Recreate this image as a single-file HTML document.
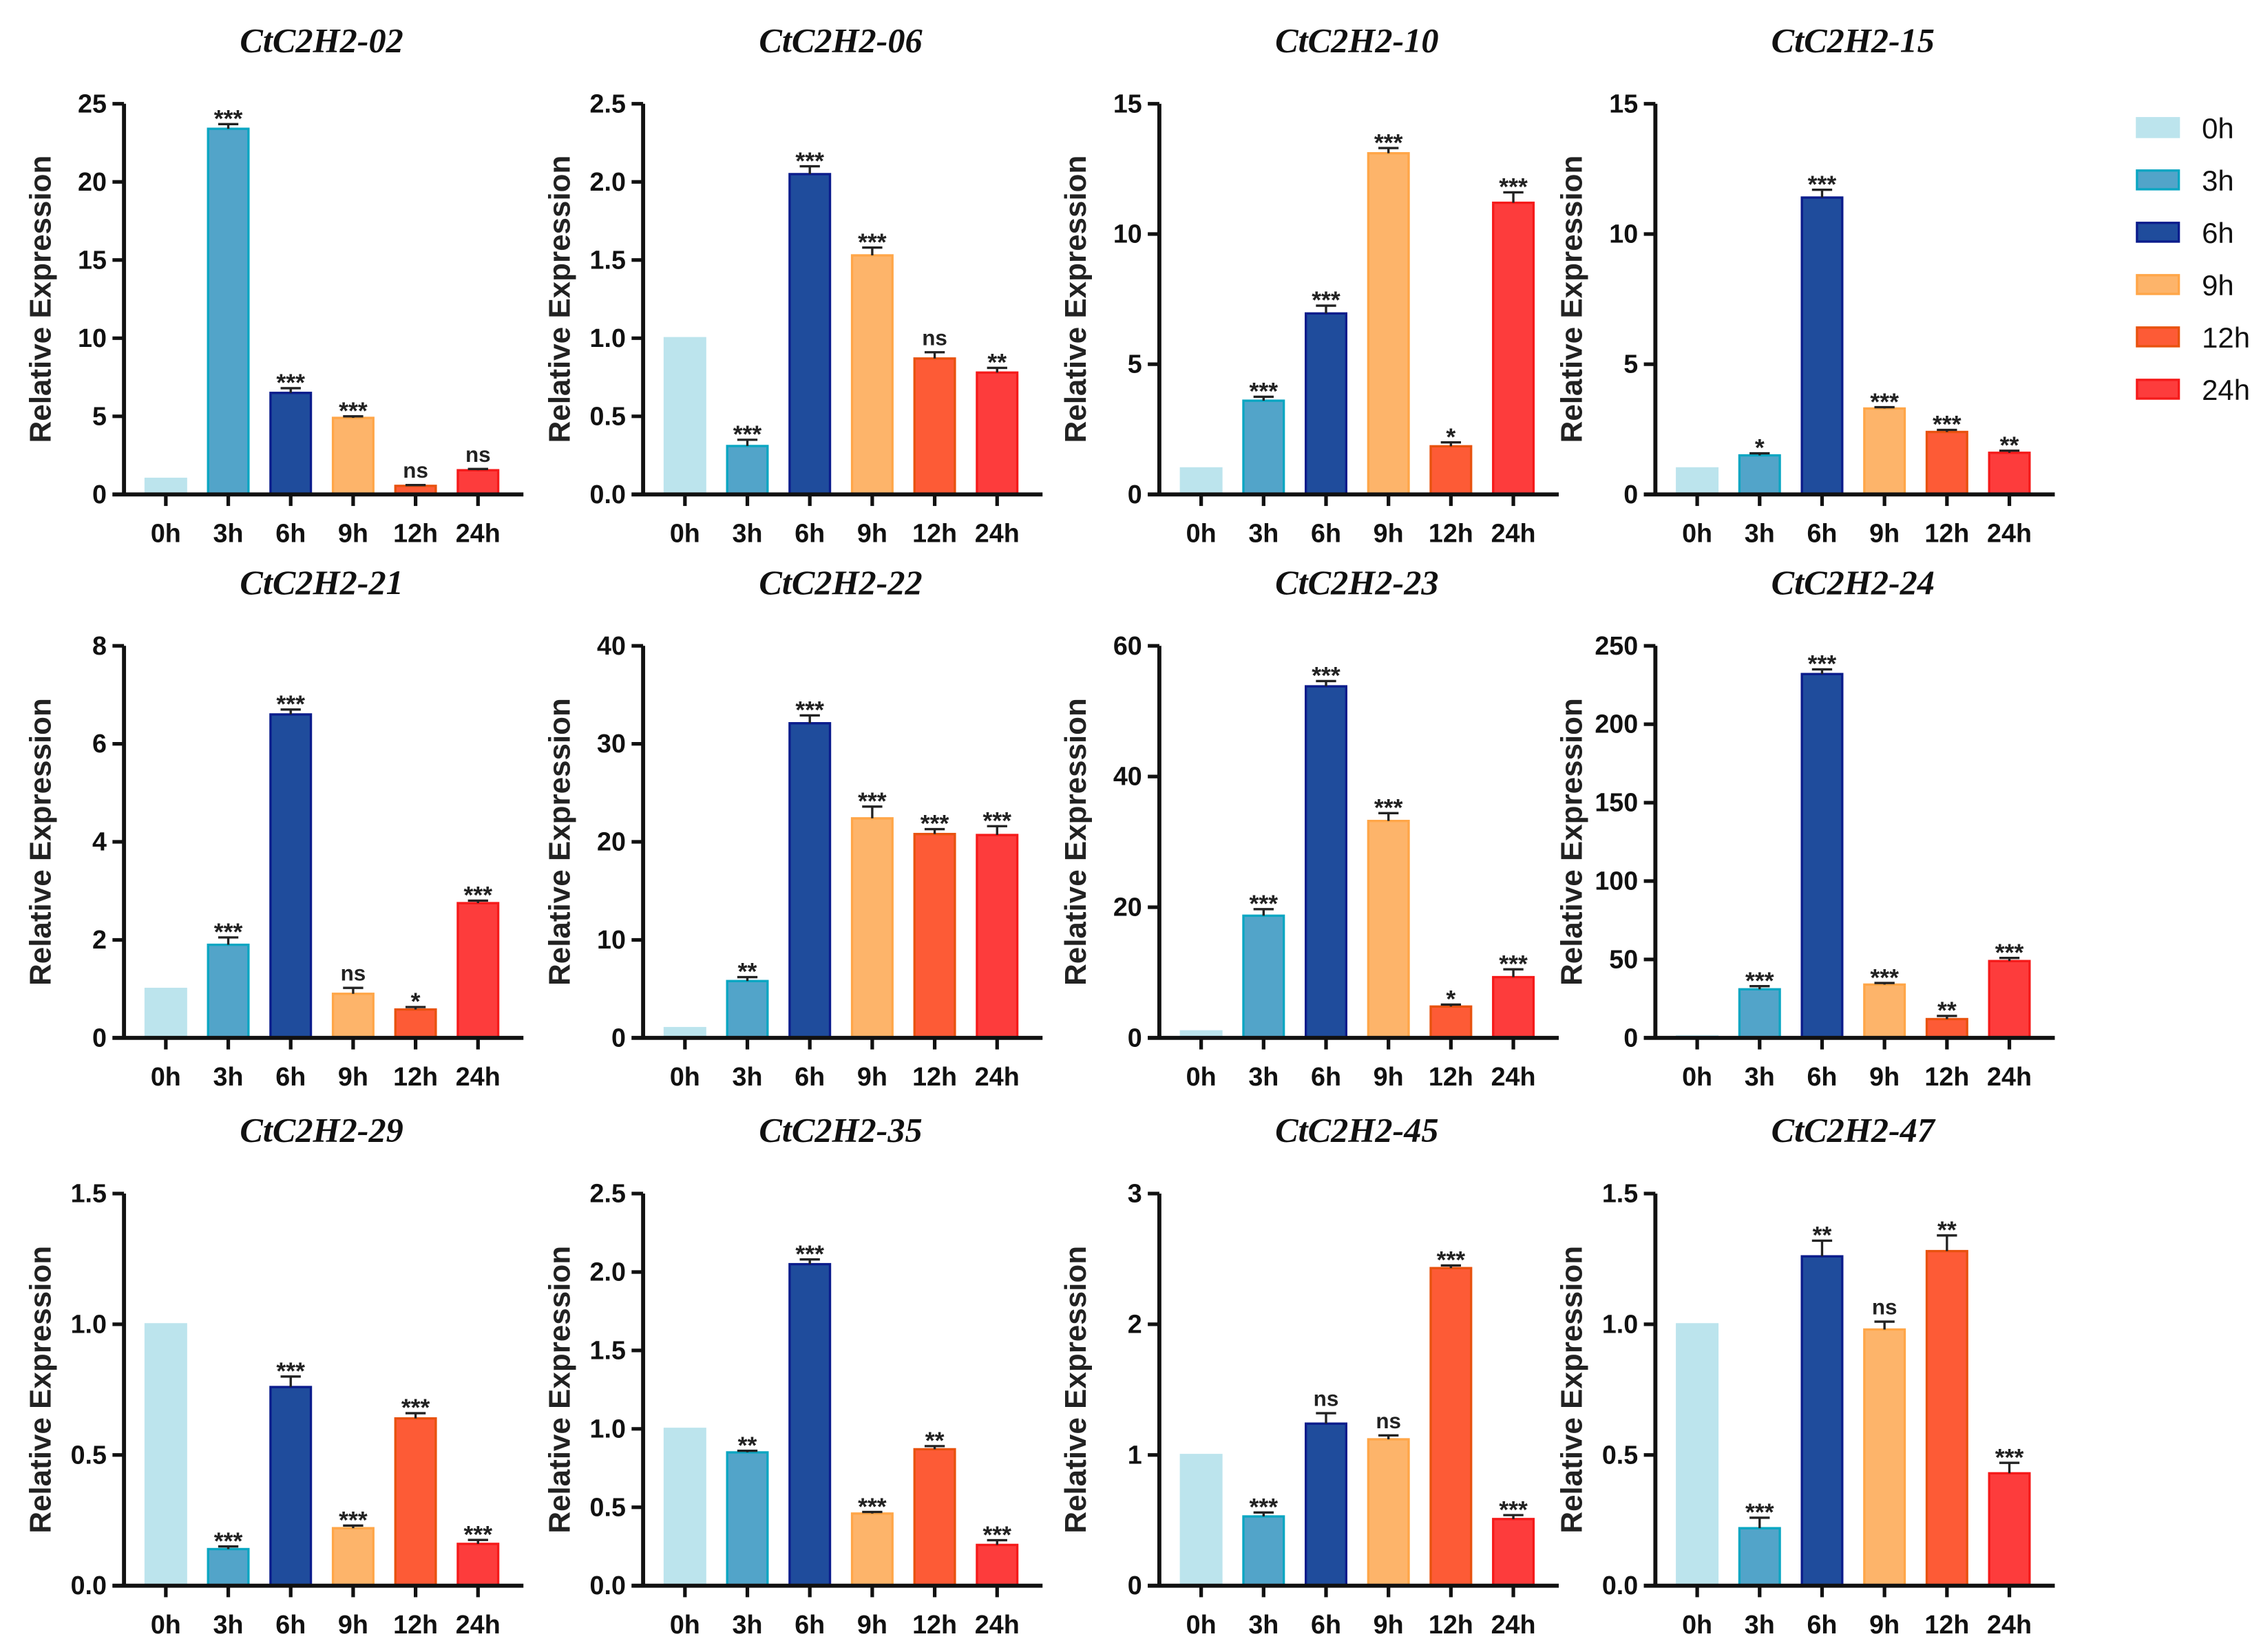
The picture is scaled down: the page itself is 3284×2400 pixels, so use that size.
<!DOCTYPE html>
<html><head><meta charset="utf-8"><style>
html,body{margin:0;padding:0;background:#fff;}
svg{display:block;}
</style></head><body>
<svg id="fig" xmlns="http://www.w3.org/2000/svg" width="3284" height="2400" viewBox="0 0 1568 1146" preserveAspectRatio="none" font-family="Liberation Sans, Arial, sans-serif"></svg>
<script>
const categories = ["0h","3h","6h","9h","12h","24h"];
const titles = ["CtC2H2-02","CtC2H2-06","CtC2H2-10","CtC2H2-15","CtC2H2-21","CtC2H2-22","CtC2H2-23","CtC2H2-24","CtC2H2-29","CtC2H2-35","CtC2H2-45","CtC2H2-47"];
const values02 = [1,23.4,6.5,4.9,0.55,1.55];
const values06 = [1,0.31,2.05,1.53,0.87,0.78];
const values10 = [1,3.6,6.95,13.1,1.85,11.2];
const values15 = [1,1.5,11.4,3.3,2.4,1.6];
const values21 = [1,1.9,6.6,0.9,0.58,2.75];
const values22 = [1,5.8,32.1,22.4,20.8,20.7];
const values23 = [1,18.7,53.8,33.2,4.8,9.3];
const values24 = [1,31,232,34,12,49];
const values29 = [1,0.14,0.76,0.22,0.64,0.16];
const values35 = [1,0.85,2.05,0.46,0.87,0.26];
const values45 = [1,0.53,1.24,1.12,2.43,0.51];
const values47 = [1,0.22,1.26,0.98,1.28,0.43];
const errors02 = [0,0.3,0.3,0.1,0.05,0.08];
const errors06 = [0,0.04,0.05,0.05,0.04,0.03];
const errors10 = [0,0.15,0.3,0.2,0.15,0.4];
const errors15 = [0,0.08,0.3,0.05,0.08,0.08];
const errors21 = [0,0.15,0.1,0.12,0.05,0.05];
const errors22 = [0,0.4,0.8,1.2,0.5,0.9];
const errors23 = [0,1,0.8,1.2,0.3,1.2];
const errors24 = [0,2,3,1,2,2];
const errors29 = [0,0.01,0.04,0.01,0.02,0.015];
const errors35 = [0,0.01,0.03,0.01,0.02,0.03];
const errors45 = [0,0.03,0.08,0.03,0.02,0.03];
const errors47 = [0,0.04,0.06,0.03,0.06,0.04];
const sig02 = ["","***","***","***","ns","ns"];
const sig06 = ["","***","***","***","ns","**"];
const sig10 = ["","***","***","***","*","***"];
const sig15 = ["","*","***","***","***","**"];
const sig21 = ["","***","***","ns","*","***"];
const sig22 = ["","**","***","***","***","***"];
const sig23 = ["","***","***","***","*","***"];
const sig24 = ["","***","***","***","**","***"];
const sig29 = ["","***","***","***","***","***"];
const sig35 = ["","**","***","***","**","***"];
const sig45 = ["","***","ns","ns","***","***"];
const sig47 = ["","***","**","ns","**","***"];
const yMax = [25,2.5,15,15,8,40,60,250,1.5,2.5,3,1.5];
const yStep = [5,0.5,5,5,2,10,20,50,0.5,0.5,1,0.5];
const yDecimals = [0,1,0,0,0,0,0,0,1,1,0,1];

const allValues=[values02,values06,values10,values15,values21,values22,values23,values24,values29,values35,values45,values47];
const allErrors=[errors02,errors06,errors10,errors15,errors21,errors22,errors23,errors24,errors29,errors35,errors45,errors47];
const allSig=[sig02,sig06,sig10,sig15,sig21,sig22,sig23,sig24,sig29,sig35,sig45,sig47];
const fills=["#bce4ed","#52a4c9","#1f4c9c","#fdb46a","#fd5b36","#fd3c3c"];
const strokes=["#bce4ed","#0aa6c2","#0b1c8c","#ffa648","#e8520f","#f51a1a"];

const NS="http://www.w3.org/2000/svg";
const svg=document.getElementById('fig');
function mk(tag,attrs,parent,txt){const e=document.createElementNS(NS,tag);for(const k in attrs)e.setAttribute(k,attrs[k]);if(txt!==undefined)e.textContent=txt;(parent||svg).appendChild(e);return e;}

const axisXs=[86,446,804,1148];
const rowTop=[72,448,828];
const rowZero=[343,720,1100];

for(let p=0;p<12;p++){
  const col=p%4,row=Math.floor(p/4);
  const ax=axisXs[col],top=rowTop[row],zero=rowZero[row];
  const g=mk('g',{});
  
  
  const yScale=v=>zero-(v/yMax[p])*(zero-top);
  const xScale=i=>ax+29+i*43.3;
  const t=mk('text',{x:ax+137,y:row==0?36:(row==1?412:792),'text-anchor':'middle',style:'font-family:"Liberation Serif",serif;font-style:italic;font-weight:bold;font-size:24px',fill:'#111'},g,titles[p]);
  
  
  const yl=mk('text',{x:0,y:0,transform:`translate(${ax-51},${(top+zero)/2}) rotate(-90)`,'text-anchor':'middle','font-size':21,'font-weight':'bold',fill:'#222'},g,'Relative Expression');
  
  
  const vals=allValues[p],errs=allErrors[p],sg=allSig[p];
  for(let i=0;i<6;i++){
    const cx=xScale(i),yv=yScale(vals[i]);
    const b=mk('rect',{x:cx-14,y:yv,width:28,height:zero-yv,fill:fills[i],stroke:strokes[i],'stroke-width':1.6},g);
    
    
    if(errs[i]>0){
      const ye=yScale(vals[i]+errs[i]);
      mk('line',{x1:cx,x2:cx,y1:yv,y2:ye,stroke:'#222','stroke-width':1.6},g);
      mk('line',{x1:cx-7,x2:cx+7,y1:ye,y2:ye,stroke:'#222','stroke-width':1.6},g);
    }
    if(sg[i]){
      const ye=yScale(vals[i]+errs[i]);
      const st=mk('text',{x:cx,y:sg[i]=='ns'?ye-5:ye+2,'text-anchor':'middle','font-size':sg[i]=='ns'?15:17,'font-weight':'bold',fill:'#222'},g,sg[i]);
      
      
    }
    mk('line',{x1:cx,x2:cx,y1:zero,y2:zero+8,stroke:'#111','stroke-width':2.5},g);
    const xl=mk('text',{x:cx,y:zero+33,'text-anchor':'middle','font-size':18,'font-weight':'bold',fill:'#111'},g,categories[i]);
    
    
  }
  const ya=mk('line',{x1:ax,x2:ax,y1:top,y2:zero+1,stroke:'#111','stroke-width':2.8},g);
  
  
  const xa=mk('line',{x1:ax-8,x2:ax+277,y1:zero,y2:zero,stroke:'#111','stroke-width':2.8},g);
  
  
  const n=Math.round(yMax[p]/yStep[p]);
  for(let k=0;k<=n;k++){
    const v=k*yStep[p],yy=yScale(v);
    mk('line',{x1:ax-8,x2:ax,y1:yy,y2:yy,stroke:'#111','stroke-width':2.5},g);
    const tl=mk('text',{x:ax-12,y:yy+6,'text-anchor':'end','font-size':18,'font-weight':'bold',fill:'#111'},g,v.toFixed(yDecimals[p]));
    
    
  }
}
const lg=mk('g',{});


for(let i=0;i<6;i++){
  const y=82+i*36.3;
  const r=mk('rect',{x:1482,y:y,width:29,height:13,fill:fills[i],stroke:strokes[i],'stroke-width':1.6},lg);
  
  
  const t=mk('text',{x:1527,y:y+14,'font-size':20,fill:'#111'},lg,categories[i]);
  
  
}
</script>
</body></html>
